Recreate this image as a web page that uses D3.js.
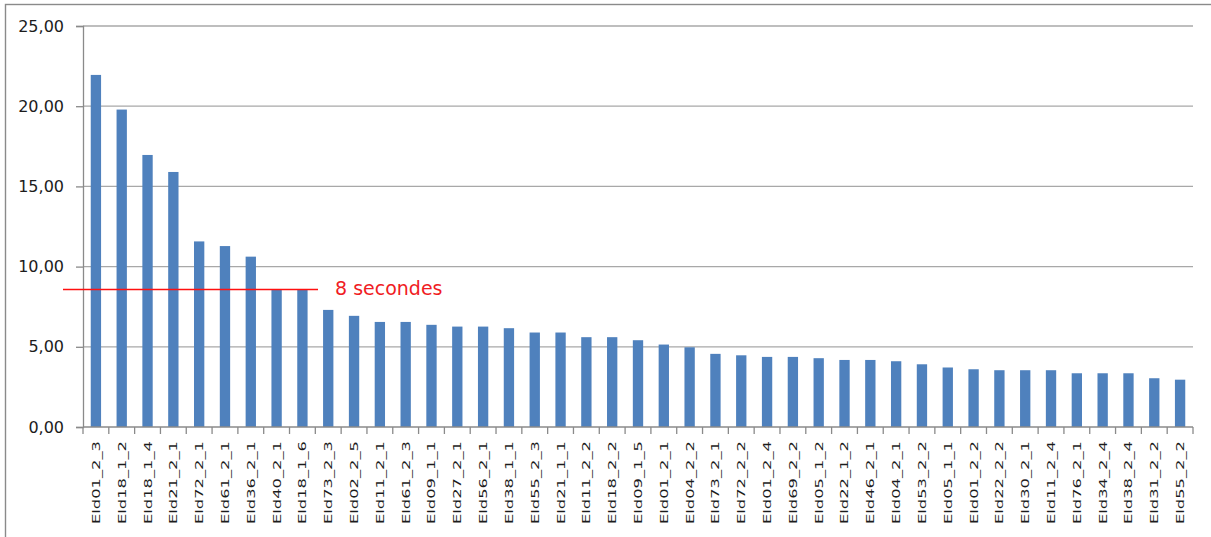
<!DOCTYPE html>
<html>
<head>
<meta charset="utf-8">
<script src="https://cdn.jsdelivr.net/npm/d3@7"></script>
<style>
  html, body { margin: 0; padding: 0; background: #fff; }
  svg { display: block; }
</style>
</head>
<body>
<svg id="chart" width="1211" height="537"></svg>
<script>
// Temps par élément (secondes), trié par ordre décroissant
const categories = [
  "Eld01_2_3", "Eld18_1_2", "Eld18_1_4", "Eld21_2_1", "Eld72_2_1", "Eld61_2_1",
  "Eld36_2_1", "Eld40_2_1", "Eld18_1_6", "Eld73_2_3", "Eld02_2_5", "Eld11_2_1",
  "Eld61_2_3", "Eld09_1_1", "Eld27_2_1", "Eld56_2_1", "Eld38_1_1", "Eld55_2_3",
  "Eld21_1_1", "Eld11_2_2", "Eld18_2_2", "Eld09_1_5", "Eld01_2_1", "Eld04_2_2",
  "Eld73_2_1", "Eld72_2_2", "Eld01_2_4", "Eld69_2_2", "Eld05_1_2", "Eld22_1_2",
  "Eld46_2_1", "Eld04_2_1", "Eld53_2_2", "Eld05_1_1", "Eld01_2_2", "Eld22_2_2",
  "Eld30_2_1", "Eld11_2_4", "Eld76_2_1", "Eld34_2_4", "Eld38_2_4", "Eld31_2_2",
  "Eld55_2_2"
];
const values = [
  21.95, 19.79, 16.96, 15.90, 11.57, 11.28, 10.62, 8.58, 8.58, 7.30, 6.93, 6.55,
  6.55, 6.37, 6.26, 6.26, 6.16, 5.89, 5.89, 5.60, 5.60, 5.41, 5.14, 4.97,
  4.56, 4.47, 4.37, 4.37, 4.29, 4.18, 4.18, 4.10, 3.91, 3.71, 3.60, 3.54,
  3.54, 3.54, 3.35, 3.35, 3.35, 3.04, 2.95
];
const yTicks = [0, 5, 10, 15, 20, 25];
const yDomain = [0, 25];
const thresholdValue = 8.58;
const thresholdLabel = "8 secondes";

const svg = d3.select("#chart");
const W = 1211, H = 537;
const plot = { left: 83, right: 1193, top: 26, bottom: 427 };

const fr = d3.formatLocale({ decimal: ",", thousands: " ", grouping: [3], currency: ["", " €"] });
const fmt = fr.format(".2f");

const x = d3.scaleBand()
  .domain(categories)
  .range([plot.left, plot.right])
  .paddingInner(0.6)
  .paddingOuter(0.3);

const y = d3.scaleLinear().domain(yDomain).range([plot.bottom, plot.top]);

// Cadre extérieur
svg.append("rect")
  .attr("x", 5.5).attr("y", 4.5)
  .attr("width", W + 10).attr("height", H + 10)
  .attr("fill", "none")
  .attr("stroke", "#8a8a8a")
  .attr("stroke-width", 1.4);

// Quadrillage horizontal
svg.append("g")
  .selectAll("line")
  .data(yTicks.filter(d => d > 0))
  .join("line")
  .attr("x1", plot.left).attr("x2", plot.right)
  .attr("y1", d => y(d)).attr("y2", d => y(d))
  .attr("stroke", "#a8a8a8")
  .attr("stroke-width", 1.3);

// Axe vertical
const yAxis = d3.axisLeft(y).tickValues(yTicks).tickSize(7).tickPadding(12).tickFormat(fmt);
const gy = svg.append("g").attr("transform", `translate(${plot.left},0)`).call(yAxis);
gy.select(".domain").attr("stroke", "#8a8a8a").attr("stroke-width", 1.3);
gy.selectAll(".tick line").attr("stroke", "#8a8a8a").attr("stroke-width", 1.3);
gy.selectAll(".tick text")
  .attr("font-family", "DejaVu Sans, sans-serif")
  .attr("font-size", 16)
  .attr("fill", "#1c1c1c");

// Barres
svg.append("g")
  .selectAll("rect")
  .data(categories.map((c, i) => ({ c, v: values[i] })))
  .join("rect")
  .attr("x", d => x(d.c))
  .attr("y", d => y(d.v))
  .attr("width", x.bandwidth())
  .attr("height", d => y(0) - y(d.v))
  .attr("fill", "#4f81bd");

// Axe horizontal avec graduations entre les catégories
svg.append("line")
  .attr("x1", plot.left).attr("x2", plot.right)
  .attr("y1", y(0)).attr("y2", y(0))
  .attr("stroke", "#8a8a8a")
  .attr("stroke-width", 1.3);

const step = x.step();
const bounds = d3.range(categories.length + 1).map(i => x.range()[0] + i * step);
svg.append("g")
  .selectAll("line")
  .data(bounds)
  .join("line")
  .attr("x1", d => d).attr("x2", d => d)
  .attr("y1", y(0)).attr("y2", y(0) + 7)
  .attr("stroke", "#8a8a8a")
  .attr("stroke-width", 1.3);

// Étiquettes des catégories (verticales)
svg.append("g")
  .selectAll("text")
  .data(categories)
  .join("text")
  .attr("transform", d => `translate(${x(d) + x.bandwidth() / 2},524) rotate(-90)`)
  .attr("dy", "0.36em")
  .attr("text-anchor", "start")
  .attr("textLength", 83)
  .attr("lengthAdjust", "spacingAndGlyphs")
  .attr("font-family", "DejaVu Sans, sans-serif")
  .attr("font-size", 11)
  .attr("fill", "#1c1c1c")
  .text(d => d);

// Seuil
const ty = y(thresholdValue);
svg.append("line")
  .attr("x1", 63).attr("x2", 318)
  .attr("y1", ty).attr("y2", ty)
  .attr("stroke", "#ff1010")
  .attr("stroke-width", 1.5);
svg.append("text")
  .attr("x", 335).attr("y", ty + 6)
  .attr("font-family", "DejaVu Sans, sans-serif")
  .attr("font-size", 19)
  .attr("fill", "#f01c24")
  .text(thresholdLabel);
</script>
</body>
</html>
